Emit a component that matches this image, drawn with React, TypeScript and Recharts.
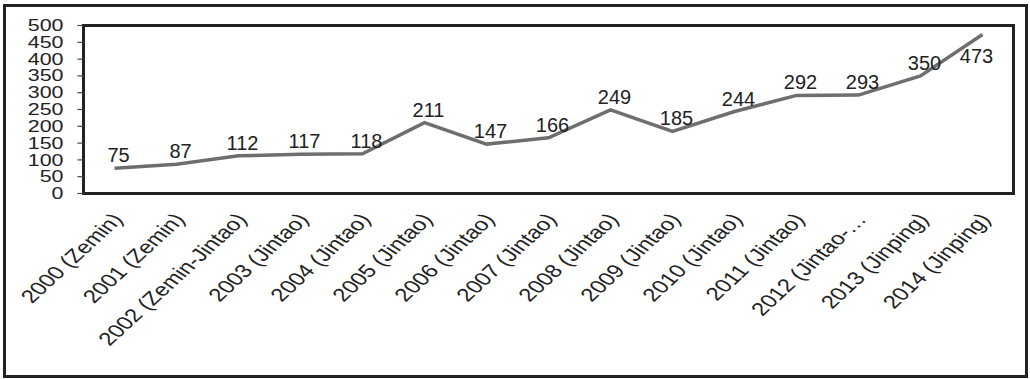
import React from "react";
import {
  LineChart,
  Line,
  XAxis,
  YAxis,
  ReferenceArea,
  LabelList,
} from "recharts";

// Year (leader) categories and the yearly counts plotted above them
const categories = [
  "2000 (Zemin)",
  "2001 (Zemin)",
  "2002 (Zemin-Jintao)",
  "2003 (Jintao)",
  "2004 (Jintao)",
  "2005 (Jintao)",
  "2006 (Jintao)",
  "2007 (Jintao)",
  "2008 (Jintao)",
  "2009 (Jintao)",
  "2010 (Jintao)",
  "2011 (Jintao)",
  "2012 (Jintao-…",
  "2013 (Jinping)",
  "2014 (Jinping)",
];
const counts = [75, 87, 112, 117, 118, 211, 147, 166, 249, 185, 244, 292, 293, 350, 473];
const yTicks = [0, 50, 100, 150, 200, 250, 300, 350, 400, 450, 500];

// Category slots: each category sits in the middle of its slot, tick marks on slot edges
const slotEdges = categories.map((_, i) => i).concat(categories.length);
const slotCenters = categories.map((_, i) => i + 0.5);

const data = categories.map((name, i) => ({ name, pos: i + 0.5, value: counts[i] }));

const FONT = "'Liberation Sans', Arial, sans-serif";

const YTick = (props: any) => {
  const { x, y, payload } = props;
  return (
    <text
      x={x}
      y={y}
      textAnchor="end"
      dominantBaseline="central"
      fontFamily={FONT}
      fontSize={16.5}
      fill="#222"
      transform={`translate(${x},${y}) scale(1.3,1) translate(${-x},${-y})`}
    >
      {payload.value}
    </text>
  );
};

// Category labels: rotated, then widened horizontally
const XTick = (props: any) => {
  const { x, y, payload } = props;
  const label = categories[Math.floor(payload.value)];
  return (
    <g transform={`translate(${x - 4},${y})`}>
      <text
        x={0}
        y={0}
        dy="0.72em"
        textAnchor="end"
        fontFamily={FONT}
        fontSize={18.5}
        fill="#222"
        transform="scale(1.3,1) rotate(-50)"
      >
        {label}
      </text>
    </g>
  );
};

const ValueLabel = (props: any) => {
  const { x, y, value } = props;
  // keep labels inside the plot frame: near the top they go under the point
  const below = y - 22 < 25;
  return (
    <text
      x={below ? x - 6 : x + 4}
      y={below ? y + 28 : y - 6}
      textAnchor="middle"
      fontFamily={FONT}
      fontSize={20}
      fill="#222"
    >
      {value}
    </text>
  );
};

export default function App() {
  return (
    <div style={{ position: "absolute", left: 0, top: 0, width: 1030, height: 379, background: "#fff" }}>
      <div
        style={{
          position: "absolute",
          left: 3,
          top: 4,
          width: 1019,
          height: 368,
          border: "3px solid #222",
          boxSizing: "content-box",
        }}
      />
      <div style={{ position: "absolute", left: 0, top: 0 }}>
        <LineChart
          width={1030}
          height={379}
          data={data}
          margin={{ top: 25.5, right: 16.5, left: 0, bottom: 0 }}
        >
          <XAxis
            xAxisId="edges"
            type="number"
            dataKey="pos"
            domain={[0, categories.length]}
            ticks={slotEdges}
            tick={false}
            tickSize={6}
            height={0}
            axisLine={false}
            tickLine={{ stroke: "#444", strokeWidth: 1.2 }}
          />
          <XAxis
            xAxisId="cats"
            type="number"
            dataKey="pos"
            domain={[0, categories.length]}
            ticks={slotCenters}
            tick={<XTick />}
            tickLine={false}
            axisLine={false}
            tickSize={0}
            tickMargin={18}
            height={185.5}
            interval={0}
          />
          <YAxis
            type="number"
            domain={[0, 500]}
            ticks={yTicks}
            width={83.5}
            axisLine={false}
            tickSize={6}
            tickMargin={14}
            tickLine={{ stroke: "#444", strokeWidth: 1.2 }}
            tick={<YTick />}
            interval={0}
          />
          <ReferenceArea
            xAxisId="cats"
            x1={0}
            x2={categories.length}
            y1={0}
            y2={500}
            fill="none"
            fillOpacity={0}
            stroke="#222"
            strokeWidth={3}
            ifOverflow="visible"
          />
          <Line
            xAxisId="cats"
            type="linear"
            dataKey="value"
            stroke="#6e6e6e"
            strokeWidth={3.5}
            dot={false}
            isAnimationActive={false}
          >
            <LabelList dataKey="value" content={<ValueLabel />} />
          </Line>
        </LineChart>
      </div>
    </div>
  );
}
